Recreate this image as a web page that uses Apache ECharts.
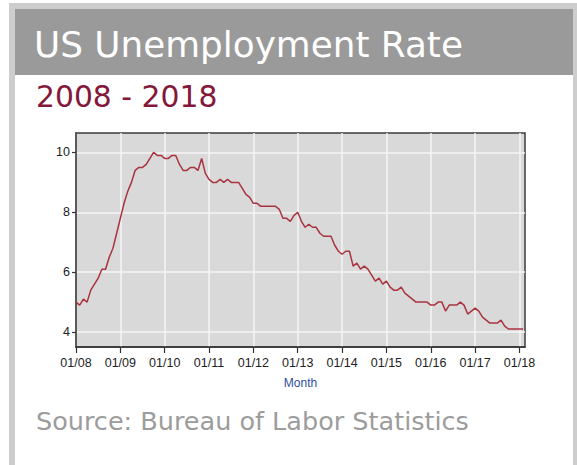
<!DOCTYPE html>
<html>
<head>
<meta charset="utf-8">
<script src="https://cdn.jsdelivr.net/npm/echarts@6/dist/echarts.min.js"></script>
<style>
html,body{margin:0;padding:0;background:#fff;}
#c{width:577px;height:465px;}
</style>
</head>
<body>
<div id="c"></div>
<script>
// Monthly US unemployment rate (%), Jan 2008 - Feb 2018
const rate2008 = [5.0,4.9,5.1,5.0,5.4,5.6,5.8,6.1,6.1,6.5,6.8,7.3];
const rate2009 = [7.8,8.3,8.7,9.0,9.4,9.5,9.5,9.6,9.8,10.0,9.9,9.9];
const rate2010 = [9.8,9.8,9.9,9.9,9.6,9.4,9.4,9.5,9.5,9.4,9.8,9.3];
const rate2011 = [9.1,9.0,9.0,9.1,9.0,9.1,9.0,9.0,9.0,8.8,8.6,8.5];
const rate2012 = [8.3,8.3,8.2,8.2,8.2,8.2,8.2,8.1,7.8,7.8,7.7,7.9];
const rate2013 = [8.0,7.7,7.5,7.6,7.5,7.5,7.3,7.2,7.2,7.2,6.9,6.7];
const rate2014 = [6.6,6.7,6.7,6.2,6.3,6.1,6.2,6.1,5.9,5.7,5.8,5.6];
const rate2015 = [5.7,5.5,5.4,5.4,5.5,5.3,5.2,5.1,5.0,5.0,5.0,5.0];
const rate2016 = [4.9,4.9,5.0,5.0,4.7,4.9,4.9,4.9,5.0,4.9,4.6,4.7];
const rate2017 = [4.8,4.7,4.5,4.4,4.3,4.3,4.3,4.4,4.2,4.1,4.1,4.1];
const rate2018 = [4.1,4.1];

const xTickLabels = ['01/08','01/09','01/10','01/11','01/12','01/13','01/14','01/15','01/16','01/17','01/18'];
const yTickValues = [4,6,8,10];

const titleText = 'US Unemployment Rate';
const subtitleText = '2008 - 2018';
const sourceText = 'Source: Bureau of Labor Statistics';
const xAxisName = 'Month';

const allRates = [].concat(rate2008,rate2009,rate2010,rate2011,rate2012,rate2013,rate2014,rate2015,rate2016,rate2017,rate2018);
const seriesData = allRates.map((v,i)=>[i,v]);
const xTickValues = xTickLabels.map((_,i)=>i*12);

const chart = echarts.init(document.getElementById('c'), null, {renderer:'svg', width:577, height:465});
chart.setOption({
  animation:false,
  backgroundColor:'#ffffff',
  graphic:[
    {type:'rect', z:-10, silent:true, shape:{x:9,y:3,width:568,height:462}, style:{fill:'#cdcdcd'}},
    {type:'rect', z:-9, silent:true, shape:{x:15,y:9,width:558,height:456}, style:{fill:'#ffffff'}},
    {type:'rect', z:-8, silent:true, shape:{x:15,y:9,width:558,height:66}, style:{fill:'#9a9a9a'}},
    {type:'text', z:10, silent:true, x:34, y:44, style:{text:titleText, fill:'#ffffff', font:'35.8px "DejaVu Sans"', verticalAlign:'middle', align:'left'}},
    {type:'text', z:10, silent:true, x:36, y:96, style:{text:subtitleText, fill:'#84183a', font:'29.8px "DejaVu Sans"', verticalAlign:'middle', align:'left'}},
    {type:'text', z:10, silent:true, x:36, y:421, style:{text:sourceText, fill:'#9c9c9c', font:'25.5px "DejaVu Sans"', verticalAlign:'middle', align:'left'}}
  ],
  grid:{left:76, top:133, width:449, height:214, show:true, backgroundColor:'#d9d9d9', borderColor:'#3c3c3c', borderWidth:1.5},
  xAxis:{
    type:'value', min:0, max:121.5,
    name:xAxisName, nameLocation:'middle', nameGap:30,
    nameTextStyle:{color:'#2f4e9e', fontFamily:'"Liberation Sans", Arial', fontSize:12},
    axisLine:{show:true, onZero:false, lineStyle:{color:'#333', width:1.5}},
    axisTick:{show:true, length:6, customValues:xTickValues, lineStyle:{color:'#333', width:1.2}},
    axisLabel:{customValues:xTickValues, margin:9, color:'#222', fontFamily:'"Liberation Sans", Arial', fontSize:12.5,
      formatter:(v)=>xTickLabels[Math.round(v/12)]},
    splitLine:{show:true, lineStyle:{color:'#f5f5f5', width:1.5}}
  },
  yAxis:{
    type:'value', min:3.5, max:10.65,
    axisLine:{show:true, onZero:false, lineStyle:{color:'#333', width:1.5}},
    axisTick:{show:true, length:4, customValues:yTickValues, lineStyle:{color:'#333', width:1.2}},
    axisLabel:{customValues:yTickValues, margin:6, color:'#222', fontFamily:'"Liberation Sans", Arial', fontSize:12.5},
    splitLine:{show:true, lineStyle:{color:'#f5f5f5', width:1.5}}
  },
  series:[{
    type:'line', data:seriesData, showSymbol:false, symbol:'none',
    lineStyle:{color:'#a8343e', width:1.5}, silent:true
  }]
});
</script>
</body>
</html>
